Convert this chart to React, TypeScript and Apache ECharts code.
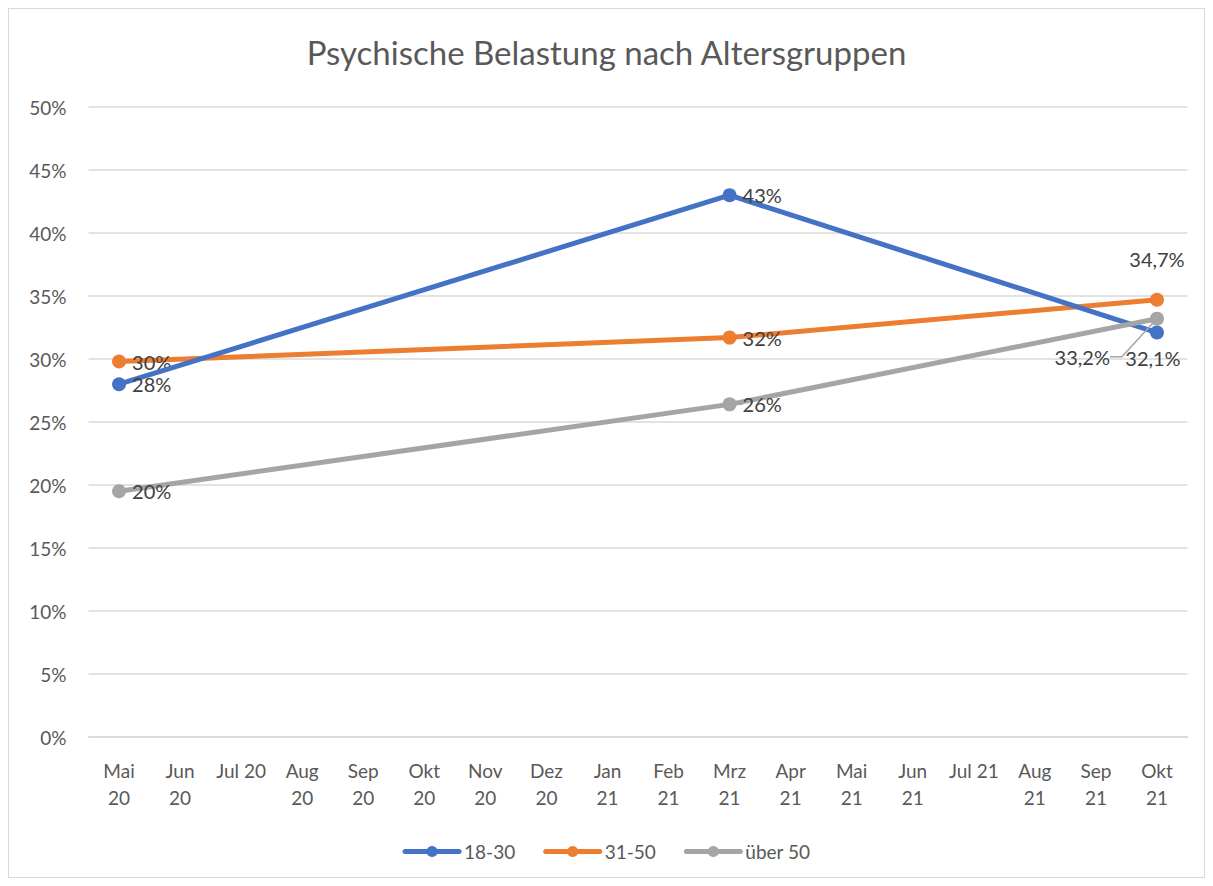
import React, { useEffect, useRef } from "react";
import * as echarts from "echarts";

const categories = [
  "Mai\n20", "Jun\n20", "Jul 20", "Aug\n20", "Sep\n20", "Okt\n20", "Nov\n20", "Dez\n20",
  "Jan\n21", "Feb\n21", "Mrz\n21", "Apr\n21", "Mai\n21", "Jun\n21", "Jul 21", "Aug\n21", "Sep\n21", "Okt\n21",
];
const pointIndex = [0, 10, 17];
const values1830 = [28.0, 43.0, 32.1];
const values3150 = [29.8, 31.7, 34.7];
const valuesUeber50 = [19.5, 26.4, 33.2];
const labels1830 = ["28%", "43%", "32,1%"];
const labels3150 = ["30%", "32%", "34,7%"];
const labelsUeber50 = ["20%", "26%", "33,2%"];
const seriesNames = ["18-30", "31-50", "über 50"];
const yTicks = [0, 5, 10, 15, 20, 25, 30, 35, 40, 45, 50];

const FONT = "Lato, 'Open Sans', sans-serif";
const TEXT = "#595959";

function buildData(vals: number[], labels: string[], lastLabel: any) {
  const arr: any[] = categories.map(() => null);
  pointIndex.forEach((ci, i) => {
    const item: any = { value: vals[i], labelText: labels[i] };
    if (i === pointIndex.length - 1 && lastLabel) item.label = lastLabel;
    arr[ci] = item;
  });
  return arr;
}

export default function App() {
  const ref = useRef<HTMLDivElement>(null);
  useEffect(() => {
    if (!ref.current) return;
    const chart = echarts.init(ref.current, undefined, { renderer: "svg" });
    const colors = ["#4472C4", "#ED7D31", "#A5A5A5"];
    const baseLabel = {
      show: true,
      position: "right",
      distance: 6,
      color: "#404040",
      fontSize: 20,
      fontFamily: FONT,
      formatter: (p: any) => (p.data && p.data.labelText) || "",
    };
    const mk = (name: string, color: string, data: any[], extra: any = {}) => ({
      name,
      type: "line",
      data,
      connectNulls: true,
      symbol: "circle",
      symbolSize: 14,
      color,
      lineStyle: { width: 5, color, cap: "round" },
      itemStyle: { color },
      label: baseLabel,
      ...extra,
    });
    chart.setOption({
      animation: false,
      title: {
        text: "Psychische Belastung nach Altersgruppen",
        left: "center",
        top: 21,
        textStyle: { fontFamily: FONT, fontSize: 33, fontWeight: "normal", color: TEXT },
      },
      legend: {
        bottom: 11,
        left: "center",
        itemWidth: 54,
        itemHeight: 14,
        itemGap: 28,
        lineStyle: { width: 5, cap: "round" },
        textStyle: { fontFamily: FONT, fontSize: 19, color: TEXT },
        data: seriesNames,
      },
      grid: { left: 79.5, right: 16.5, top: 98, bottom: 140 },
      xAxis: {
        type: "category",
        data: categories,
        boundaryGap: true,
        axisLine: { show: true, lineStyle: { color: "#d9d9d9", width: 1.5 } },
        axisTick: { show: false },
        axisLabel: {
          fontFamily: FONT,
          fontSize: 19,
          color: TEXT,
          margin: 20,
          lineHeight: 27,
          interval: 0,
          verticalAlign: "top",
        },
      },
      yAxis: {
        type: "value",
        min: yTicks[0],
        max: yTicks[yTicks.length - 1],
        interval: 5,
        axisLine: { show: false },
        axisTick: { show: false },
        splitLine: { lineStyle: { color: "#d9d9d9", width: 1.5 } },
        axisLabel: {
          fontFamily: FONT,
          fontSize: 19,
          color: TEXT,
          margin: 22,
          formatter: (v: number) => v + "%",
        },
      },
      series: [
        mk(seriesNames[0], colors[0], buildData(values1830, labels1830, {
          position: "bottom", distance: 8, offset: [-4, 0],
        }), { z: 3 }),
        mk(seriesNames[1], colors[1], buildData(values3150, labels3150, {
          position: "top", distance: 24,
        }), { z: 2 }),
        mk(seriesNames[2], colors[2], buildData(valuesUeber50, labelsUeber50, {
          position: "left", distance: 40,
        }), {
          z: 4,
          labelLine: { show: true, length2: 12, lineStyle: { color: "#A5A5A5", width: 1.5 } },
          labelLayout: (p: any) => (p.dataIndex === 17 ? { dy: 38 } : {}),
        }),
      ],
    });
    return () => chart.dispose();
  }, []);
  return (
    <div
      style={{
        width: 1197,
        height: 870,
        boxSizing: "border-box",
        border: "1px solid #d9d9d9",
        background: "#fff",
      }}
    >
      <div ref={ref} style={{ width: 1195, height: 868 }} />
    </div>
  );
}
